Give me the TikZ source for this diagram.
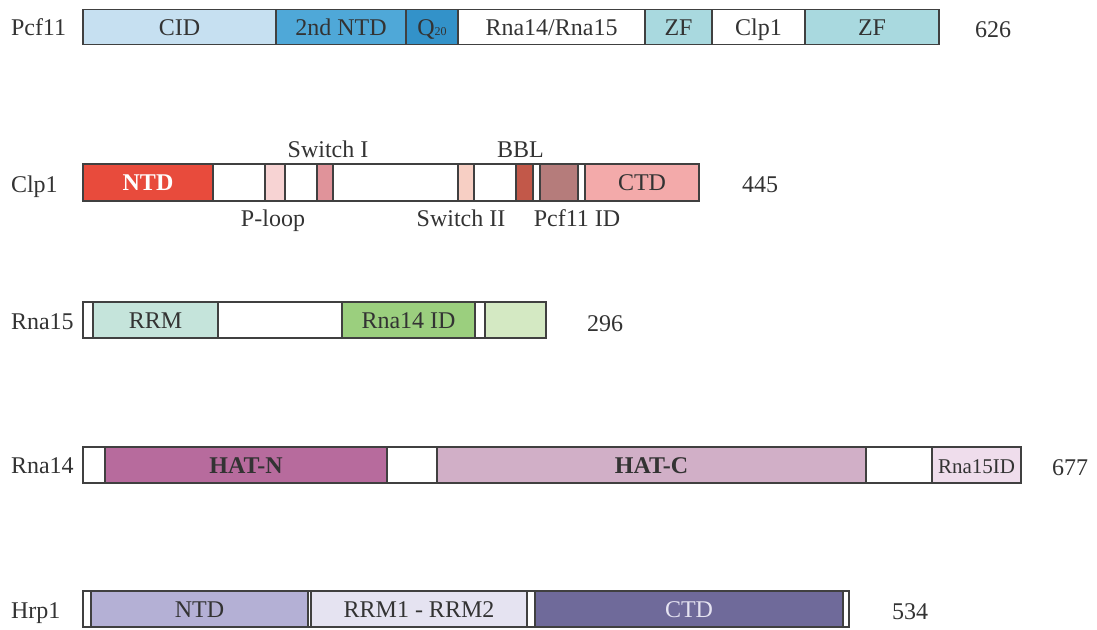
\documentclass[tikz,border=0pt]{standalone}
\usepackage{fontspec}
\setmainfont{Liberation Serif}
\usetikzlibrary{positioning}
\definecolor{boxline}{HTML}{404040}
\definecolor{txt}{HTML}{333333}
\definecolor{cidc}{HTML}{C6E0F1}
\definecolor{ntdtwo}{HTML}{4FA8D8}
\definecolor{qc}{HTML}{3392C9}
\definecolor{zfc}{HTML}{A9D9DF}
\definecolor{clpntd}{HTML}{E84B3C}
\definecolor{ploopc}{HTML}{F7D3D3}
\definecolor{swonec}{HTML}{E0939A}
\definecolor{swtwoc}{HTML}{F7CFC4}
\definecolor{bblc}{HTML}{C25849}
\definecolor{pidc}{HTML}{B57C7B}
\definecolor{clpctd}{HTML}{F3AAAA}
\definecolor{rrmc}{HTML}{C5E4DB}
\definecolor{fourid}{HTML}{9BCF7E}
\definecolor{tailc}{HTML}{D4E9C3}
\definecolor{hatnc}{HTML}{B76B9D}
\definecolor{hatcc}{HTML}{D1AFC7}
\definecolor{fiveid}{HTML}{EFDDEC}
\definecolor{hrpntd}{HTML}{B4B0D5}
\definecolor{hrprrm}{HTML}{E5E3F1}
\definecolor{hrpctd}{HTML}{6F6A9A}
\begin{document}
\begin{tikzpicture}
	[x=1pt,y=-1pt,
	dom/.style={draw=boxline,line width=1.2pt,fill=#1,minimum height=35pt,
		inner sep=0pt,outer sep=0pt,text=txt,text height=16pt,text depth=0pt,
		font=\fontsize{24}{26}\selectfont},
	dom/.default=white,
	lbl/.style={inner sep=0pt,outer sep=0pt,text=txt,text height=16pt,text depth=0pt,
		font=\fontsize{24}{26}\selectfont}]
	\useasboundingbox (0,0) rectangle (1097,629);
	\node[lbl,anchor=west] (pcfName) at (11,27) {Pcf11};
	\node[dom=cidc,minimum width=193pt,anchor=west] (pcfCid) at (83,27) {CID};
	\node[dom=ntdtwo,minimum width=130pt,right=0pt of pcfCid] (pcfNtd) {2nd NTD};
	\node[dom=qc,minimum width=52pt,right=0pt of pcfNtd] (pcfQ) {Q{\fontsize{12}{12}\selectfont 20}};
	\node[dom,minimum width=187pt,right=0pt of pcfQ] (pcfRna) {Rna14/Rna15};
	\node[dom=zfc,minimum width=67pt,right=0pt of pcfRna] (pcfZfa) {ZF};
	\node[dom,minimum width=93pt,right=0pt of pcfZfa] (pcfClp) {Clp1};
	\node[dom=zfc,minimum width=134pt,right=0pt of pcfClp] (pcfZfb) {ZF};
	\node[lbl,right=36pt of pcfZfb,yshift=-2pt] (pcfLen) {626};

	\node[lbl,anchor=west] (clpName) at (11,184) {Clp1};
	\node[dom=clpntd,minimum width=130pt,minimum height=37pt,anchor=west,text=white,font=\fontsize{24}{26}\selectfont\bfseries] (clpNtd) at (83,182.5) {NTD};
	\node[dom,minimum width=52pt,minimum height=37pt,right=0pt of clpNtd] (clpGapa) {};
	\node[dom=ploopc,minimum width=20pt,minimum height=37pt,right=0pt of clpGapa] (clpPloop) {};
	\node[dom,minimum width=32pt,minimum height=37pt,right=0pt of clpPloop] (clpGapb) {};
	\node[dom=swonec,minimum width=16pt,minimum height=37pt,right=0pt of clpGapb] (clpSwa) {};
	\node[dom,minimum width=125pt,minimum height=37pt,right=0pt of clpSwa] (clpGapc) {};
	\node[dom=swtwoc,minimum width=16pt,minimum height=37pt,right=0pt of clpGapc] (clpSwb) {};
	\node[dom,minimum width=42pt,minimum height=37pt,right=0pt of clpSwb] (clpGapd) {};
	\node[dom=bblc,minimum width=17pt,minimum height=37pt,right=0pt of clpGapd] (clpBbl) {};
	\node[dom,minimum width=7pt,minimum height=37pt,right=0pt of clpBbl] (clpGape) {};
	\node[dom=pidc,minimum width=38pt,minimum height=37pt,right=0pt of clpGape] (clpPid) {};
	\node[dom,minimum width=7pt,minimum height=37pt,right=0pt of clpPid] (clpGapf) {};
	\node[dom=clpctd,minimum width=114pt,minimum height=37pt,right=0pt of clpGapf] (clpCtd) {CTD};
	\node[lbl,right=43pt of clpCtd,yshift=-2pt] (clpLen) {445};
	\node[lbl,above=7pt of clpSwa,xshift=3pt] (clpSwaText) {Switch I};
	\node[lbl,below=9pt of clpPloop,xshift=-2pt] (clpPloopText) {P-loop};
	\node[lbl,below=9pt of clpSwb,xshift=-5pt] (clpSwbText) {Switch II};
	\node[lbl,above=7pt of clpBbl,xshift=-4pt] (clpBblText) {BBL};
	\node[lbl,below=9pt of clpPid,xshift=18pt] (clpPidText) {Pcf11 ID};

	\node[lbl,anchor=west] (rnaName) at (11,321) {Rna15};
	\node[dom,minimum width=10pt,minimum height=36pt,anchor=west] (rnaEdge) at (83,320) {};
	\node[dom=rrmc,minimum width=125pt,minimum height=36pt,right=0pt of rnaEdge] (rnaRrm) {RRM};
	\node[dom,minimum width=124pt,minimum height=36pt,right=0pt of rnaRrm] (rnaGap) {};
	\node[dom=fourid,minimum width=133pt,minimum height=36pt,right=0pt of rnaGap] (rnaId) {Rna14 ID};
	\node[dom,minimum width=10pt,minimum height=36pt,right=0pt of rnaId] (rnaStrip) {};
	\node[dom=tailc,minimum width=61pt,minimum height=36pt,right=0pt of rnaStrip] (rnaTail) {};
	\node[lbl,right=41pt of rnaTail,yshift=-3pt] (rnaLen) {296};

	\node[lbl,anchor=west] (hatName) at (11,465) {Rna14};
	\node[dom,minimum width=22pt,minimum height=36pt,anchor=west] (hatEdge) at (83,465) {};
	\node[dom=hatnc,minimum width=282pt,minimum height=36pt,right=0pt of hatEdge,font=\fontsize{24}{26}\selectfont\bfseries] (hatN) {HAT-N};
	\node[dom,minimum width=50pt,minimum height=36pt,right=0pt of hatN] (hatGap) {};
	\node[dom=hatcc,minimum width=429pt,minimum height=36pt,right=0pt of hatGap,font=\fontsize{24}{26}\selectfont\bfseries] (hatC) {HAT-C};
	\node[dom,minimum width=66pt,minimum height=36pt,right=0pt of hatC] (hatTail) {};
	\node[dom=fiveid,minimum width=89pt,minimum height=36pt,right=0pt of hatTail,font=\fontsize{21}{23}\selectfont] (hatId) {Rna15ID};
	\node[lbl,right=31pt of hatId,yshift=-2pt] (hatLen) {677};

	\node[lbl,anchor=west] (hrpName) at (11,610) {Hrp1};
	\node[dom,minimum width=8pt,minimum height=36pt,anchor=west] (hrpEdge) at (83,609) {};
	\node[dom=hrpntd,minimum width=217pt,minimum height=36pt,right=0pt of hrpEdge] (hrpNtd) {NTD};
	\node[dom,minimum width=3pt,minimum height=36pt,right=0pt of hrpNtd] (hrpSep) {};
	\node[dom=hrprrm,minimum width=216pt,minimum height=36pt,right=0pt of hrpSep] (hrpRrm) {RRM1 - RRM2};
	\node[dom,minimum width=8pt,minimum height=36pt,right=0pt of hrpRrm] (hrpStrip) {};
	\node[dom=hrpctd,minimum width=308pt,minimum height=36pt,right=0pt of hrpStrip,text=hrprrm] (hrpCtd) {CTD};
	\node[dom,minimum width=6pt,minimum height=36pt,right=0pt of hrpCtd] (hrpTail) {};
	\node[lbl,right=43pt of hrpTail,yshift=-2pt] (hrpLen) {534};
\end{tikzpicture}
\end{document}
